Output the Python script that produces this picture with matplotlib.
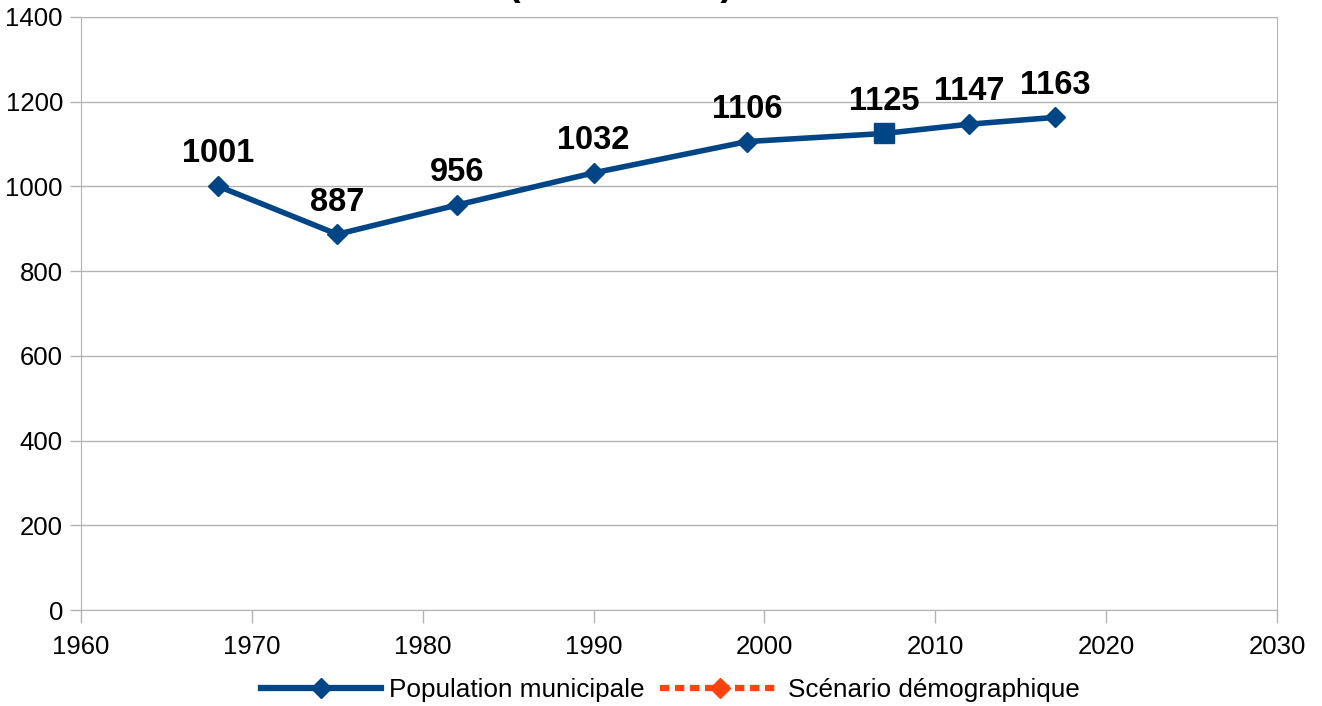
import matplotlib
matplotlib.use("Agg")
import matplotlib.pyplot as plt
from matplotlib.lines import Line2D

plt.rcParams['font.family'] = ['Liberation Sans', 'DejaVu Sans']

years = [1968, 1975, 1982, 1990, 1999, 2007, 2012, 2017]
population = [1001, 887, 956, 1032, 1106, 1125, 1147, 1163]
markers = ['D', 'D', 'D', 'D', 'D', 's', 'D', 'D']
scenario_years = []
scenario_values = []

blue = '#004586'
orange = '#ff420e'
grid = '#b3b3b3'

fig = plt.figure(figsize=(13.22, 7.06), dpi=100)
ax = fig.add_axes([81 / 1322, 96 / 706, (1277 - 81) / 1322, (610 - 17) / 706])

ax.plot(years, population, color=blue, lw=4, zorder=3)
for x, y, m in zip(years, population, markers):
    ax.plot([x], [y], marker=m, color=blue, ms=10.5 if m == 'D' else 14, zorder=4)
    ax.annotate(str(y), (x, y), xytext=(0, 12), textcoords='offset points',
                ha='center', va='bottom', fontsize=23.5, fontweight='bold')
ax.plot(scenario_years, scenario_values, color=orange, ls='--', lw=4, marker='D')

ax.set_xlim(1960, 2030)
ax.set_ylim(0, 1400)
ax.set_xticks(range(1960, 2031, 10))
ax.set_yticks(range(0, 1401, 200))
ax.yaxis.grid(True, color=grid, lw=1)
ax.xaxis.grid(False)
ax.set_axisbelow(True)
for s in ax.spines.values():
    s.set_color(grid)
ax.tick_params(axis='both', colors=grid, labelcolor='black', labelsize=18.5, width=1)
ax.tick_params(axis='x', length=9, pad=9)
ax.tick_params(axis='y', length=8, pad=5)

fig.text(621 / 1322, 1.0 + 5 / 706, '(1968 - 2017)', ha='center', va='baseline',
         fontsize=27, fontweight='bold')

handles = [
    Line2D([], [], color=blue, lw=4.5, marker='D', ms=10),
    Line2D([], [], color=orange, lw=4.5, ls=(0, (1.5, 0.9)), marker='D', ms=10),
]
fig.legend(handles, ['Population municipale', 'Scénario démographique'],
           loc='center', bbox_to_anchor=(670 / 1322, 16 / 706), ncol=2, frameon=False,
           fontsize=18.8, handlelength=4.6, columnspacing=0.6, handletextpad=0.3)

fig.savefig('out.png', dpi=100)
